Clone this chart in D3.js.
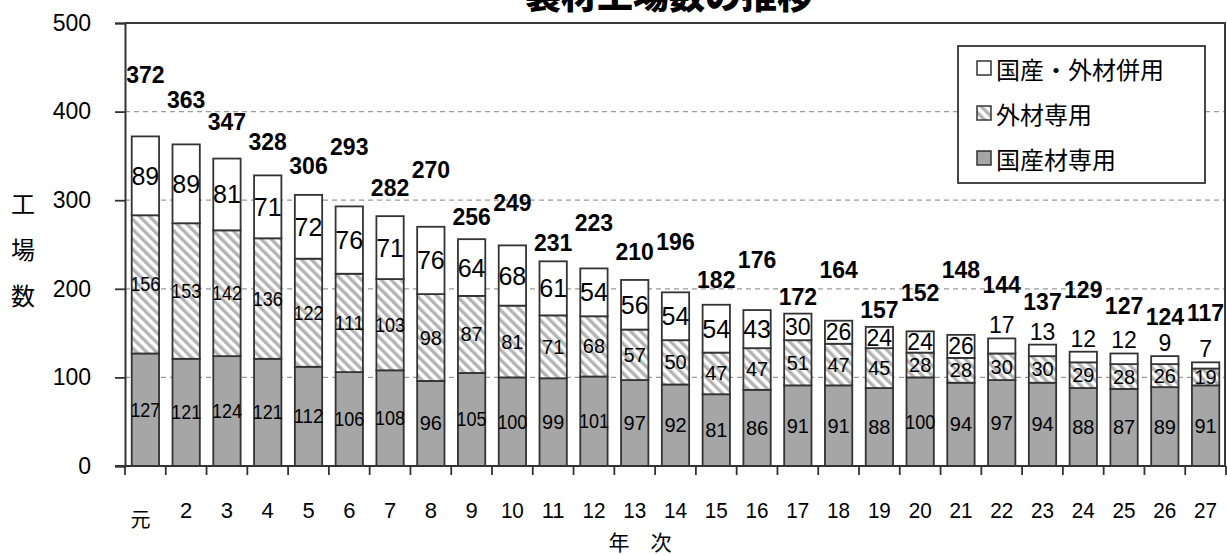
<!DOCTYPE html>
<html><head><meta charset="utf-8">
<script src="https://cdn.jsdelivr.net/npm/d3@7"></script>
<style>
html,body{margin:0;padding:0;background:#fff;}
svg{display:block;}
text{font-family:"Liberation Sans",Arial,"Noto Sans CJK JP",sans-serif;fill:#000;}
.cjk{font-family:"Noto Sans CJK JP","Noto Sans CJK SC",sans-serif;}
</style></head>
<body>
<svg id="c" width="1227" height="555"></svg>
<script>
const categories = ["元","2","3","4","5","6","7","8","9","10","11","12","13","14","15","16","17","18","19","20","21","22","23","24","25","26","27"];
const domesticOnly = [127,121,124,121,112,106,108,96,105,100,99,101,97,92,81,86,91,91,88,100,94,97,94,88,87,89,91];
const importedOnly = [156,153,142,136,122,111,103,98,87,81,71,68,57,50,47,47,51,47,45,28,28,30,30,29,28,26,19];
const combined     = [89,89,81,71,72,76,71,76,64,68,61,54,56,54,54,43,30,26,24,24,26,17,13,12,12,9,7];
const seriesNames = ["国産材専用","外材専用","国産・外材併用"];
const yTicks = [0,100,200,300,400,500];
const title = "製材工場数の推移";
const xTitle = "年　次";
const yTitleChars = ["工","場","数"];
// manual lift (px) of the total labels above each bar, as placed in the original
const totalLift = [61,44,37,33,29,59,28,57,22,42,18,45,28,50,25,50,17,51,17,38,65,53,43,62,47,39,49];

const svg = d3.select("#c");
const L = 125, R = 1226, T = 23, B = 466;
const x = d3.scaleBand().domain(categories).range([L, R]).paddingInner(0.33).paddingOuter(0.165);
const y = d3.scaleLinear().domain([0, 500]).range([B, T]);

const defs = svg.append("defs");
const pat = defs.append("pattern").attr("id","hatch").attr("patternUnits","userSpaceOnUse")
  .attr("width",7).attr("height",7).attr("patternTransform","rotate(-45)");
pat.append("rect").attr("width",7).attr("height",7).attr("fill","#fff");
pat.append("rect").attr("x",0).attr("width",3.4).attr("height",7).attr("fill","#b4b4b4");

const fills = ["#a6a6a6","url(#hatch)","#ffffff"];

// gridlines
svg.append("g").selectAll("line").data(yTicks.filter(d => d > 0 && d < 500)).join("line")
  .attr("x1", L).attr("x2", R).attr("y1", d => y(d)).attr("y2", d => y(d))
  .attr("stroke","#9a9a9a").attr("stroke-width",1.2).attr("stroke-dasharray","5,4");

// plot frame top/right
svg.append("path").attr("d", `M${L},${y(500)}H${R-1}V${B}`).attr("fill","none").attr("stroke","#3a3a3a").attr("stroke-width",2);

// stacked data
const rows = categories.map((c,i) => ({c, v:[domesticOnly[i], importedOnly[i], combined[i]]}));
const stack = d3.stack().keys([0,1,2]).value((d,k) => d.v[k]);
const layers = stack(rows);

const g = svg.append("g");
layers.forEach((layer, k) => {
  g.selectAll(null).data(layer).join("rect")
    .attr("x", d => x(d.data.c)).attr("width", x.bandwidth())
    .attr("y", d => y(d[1])).attr("height", d => y(d[0]) - y(d[1]))
    .attr("fill", fills[k]).attr("stroke","#333").attr("stroke-width",1.8);
});

// segment labels
const segFont = [20, 20, 25];
layers.forEach((layer, k) => {
  g.selectAll(null).data(layer).join("text")
    .attr("x", d => x(d.data.c) + x.bandwidth()/2)
    .attr("y", d => {
      const v = d[1]-d[0];
      if (k === 2 && v < 20) return y(d[1]) - 13;
      return (y(d[0]) + y(d[1]))/2;
    })
    .attr("text-anchor","middle").attr("dominant-baseline","central")
    .attr("font-size", d => (k === 2 && (d[1]-d[0]) < 35) ? 23 : segFont[k])
    .attr("textLength", d => { const s = String(d[1]-d[0]); return s.length === 3 ? 30 : null; })
    .attr("lengthAdjust","spacingAndGlyphs")
    .text(d => d[1]-d[0]);
});

// total labels
g.selectAll(null).data(layers[2]).join("text")
  .attr("x", d => x(d.data.c) + x.bandwidth()/2)
  .attr("y", (d,i) => y(d[1]) - totalLift[i])
  .attr("text-anchor","middle").attr("dominant-baseline","central")
  .attr("font-size",23).attr("font-weight","bold")
  .text(d => d[1]);

// y axis
const yAxis = svg.append("g").attr("transform",`translate(${L},0)`)
  .call(d3.axisLeft(y).tickValues(yTicks).tickSize(10).tickPadding(24));
yAxis.select(".domain").attr("stroke","#333").attr("stroke-width",2);
yAxis.selectAll(".tick line").attr("stroke","#333").attr("stroke-width",1.8);
yAxis.selectAll(".tick text").attr("font-size",23).attr("font-family","Liberation Sans, Arial, sans-serif").attr("fill","#000");

// x axis: baseline + ticks at band boundaries
svg.append("line").attr("x1",L-10).attr("x2",R).attr("y1",B).attr("y2",B).attr("stroke","#333").attr("stroke-width",2);
const bounds = d3.range(categories.length + 1).map(i => L + i * x.step());
svg.append("g").selectAll("line").data(bounds).join("line")
  .attr("x1", d => d).attr("x2", d => d).attr("y1", B).attr("y2", B + 9)
  .attr("stroke","#333").attr("stroke-width",1.8);
svg.append("g").selectAll("text").data(categories).join("text")
  .attr("class", d => isNaN(+d) ? "cjk" : null)
  .attr("x", d => x(d) + x.bandwidth()/2 - (isNaN(+d) ? 5 : 0))
  .attr("y", d => isNaN(+d) ? 518 : 510)
  .attr("text-anchor","middle").attr("dominant-baseline","central")
  .attr("font-size", d => isNaN(+d) ? 20 : 22)
  .attr("textLength", d => d.length === 2 ? 23 : null).attr("lengthAdjust","spacingAndGlyphs")
  .text(d => d);

// axis titles
svg.append("text").attr("class","cjk").attr("x",640).attr("y",541).attr("text-anchor","middle")
  .attr("dominant-baseline","central").attr("font-size",21).text(xTitle);
svg.append("g").selectAll("text").data(yTitleChars).join("text").attr("class","cjk")
  .attr("x",23).attr("y",(d,i) => 202 + i*46).attr("text-anchor","middle")
  .attr("dominant-baseline","central").attr("font-size",24).text(d => d);

// title (clipped by the top edge as in the original)
svg.append("text").attr("class","cjk").attr("x",669).attr("y",9).attr("text-anchor","middle")
  .attr("font-size",36).attr("font-weight",900).text(title);

// legend
const lg = svg.append("g").attr("transform","translate(958,46)");
lg.append("rect").attr("width",247).attr("height",137).attr("fill","#fff").attr("stroke","#333").attr("stroke-width",1.8);
const legendItems = [2,1,0];
legendItems.forEach((k, i) => {
  const cy = 22 + i*45;
  lg.append("rect").attr("x",19).attr("y",cy-7).attr("width",14).attr("height",14)
    .attr("fill", fills[k]).attr("stroke","#333").attr("stroke-width",1.5);
  lg.append("text").attr("class","cjk").attr("x",38).attr("y",cy).attr("dominant-baseline","central")
    .attr("font-size",24).text(seriesNames[k]);
});
</script>
</body></html>
